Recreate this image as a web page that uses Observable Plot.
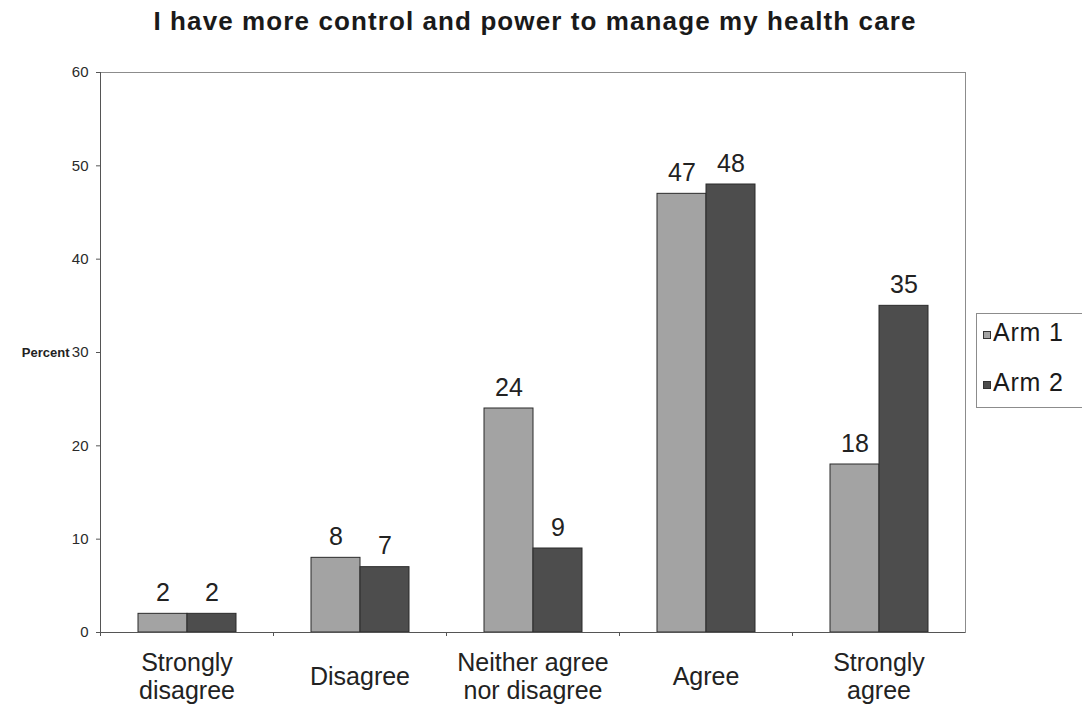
<!DOCTYPE html>
<html>
<head>
<meta charset="utf-8">
<script src="https://cdn.jsdelivr.net/npm/d3@7"></script>
<script src="https://cdn.jsdelivr.net/npm/@observablehq/plot@0.6"></script>
<style>
  body { margin: 0; background: #fff; font-family: "Liberation Sans", Arial, sans-serif; }
  #wrap { position: relative; width: 1082px; height: 707px; overflow: hidden; background: #fff; }
  #title { width: 1070px; height: 60px; box-sizing: border-box; padding-top: 6px; text-align: center;
           font-size: 26px; line-height: 30px; font-weight: bold; color: #1a1a1a; letter-spacing: 1.1px; }
  #legend { position: absolute; left: 976px; top: 313px; width: 125px; height: 95px;
            border: 1px solid #8c8c8c; box-sizing: border-box; background: #fff; }
  .item { position: absolute; left: 6px; height: 30px; display: flex; align-items: center;
          font-size: 25px; color: #1a1a1a; letter-spacing: 0.8px; }
  .sw { width: 6px; height: 6px; border: 1px solid #333; margin-right: 2px; margin-top: 6px; }
</style>
</head>
<body>
<div id="wrap">
  <div id="title">I have more control and power to manage my health care</div>
  <div id="chart"></div>
  <div id="legend"></div>
</div>
<script>
// Survey responses (percent) for each study arm
const categories = ["Strongly\ndisagree", "Disagree", "Neither agree\nnor disagree", "Agree", "Strongly\nagree"];
const arms = ["Arm 1", "Arm 2"];
const arm1 = [2, 8, 24, 47, 18];
const arm2 = [2, 7, 9, 48, 35];
const armColors = ["#a3a3a3", "#4d4d4d"];
const yTicks = [0, 10, 20, 30, 40, 50, 60];

const rows = categories.flatMap((c, i) => [
  {category: c, arm: arms[0], value: arm1[i]},
  {category: c, arm: arms[1], value: arm2[i]}
]);

const width = 1082, height = 647;
const marginLeft = 100, marginRight = 117, marginTop = 12, marginBottom = 75;
const facetWidth = (width - marginLeft - marginRight) / categories.length;
const font = "Liberation Sans, Arial, sans-serif";

const chart = Plot.plot({
  width, height, marginLeft, marginRight, marginTop, marginBottom,
  style: {fontFamily: font, background: "#fff", color: "#222"},
  fx: {domain: categories, padding: 0, axis: null},
  x: {domain: arms, paddingInner: 0, paddingOuter: 0.75, axis: null},
  y: {domain: [0, 60], axis: null},
  color: {domain: arms, range: armColors},
  marks: [
    // plot-area border
    Plot.frame({anchor: "top", stroke: "#8c8c8c"}),
    Plot.frame({anchor: "right", facetAnchor: "right", stroke: "#8c8c8c"}),
    // value axis
    Plot.axisY({ticks: yTicks, tickSize: 4, tickPadding: 8, fontSize: 15, stroke: "#555", fill: "#2a2a2a", label: null}),
    Plot.frame({anchor: "left", facetAnchor: "left", stroke: "#555"}),
    Plot.text([{fx: categories[0], y: 30}], {fx: "fx", y: "y", text: () => "Percent", frameAnchor: "left",
      textAnchor: "end", dx: -31, fontSize: 13, fontWeight: "bold", fill: "#222"}),
    // bars
    Plot.barY(rows, {fx: "category", x: "arm", y: "value", fill: "arm", stroke: "#2b2b2b", strokeWidth: 1}),
    Plot.text(rows, {fx: "category", x: "arm", y: "value", text: "value", dy: -21, lineAnchor: "middle",
      fontSize: 25, fill: "#222"}),
    // category axis
    Plot.ruleY([0], {stroke: "#555"}),
    Plot.axisFx({anchor: "bottom", tickSize: 4, text: null, dx: -facetWidth / 2, stroke: "#555"}),
    Plot.axisFx({anchor: "bottom", tickSize: 0, tickPadding: 44, lineAnchor: "middle", lineHeight: 1.12,
      fontSize: 25, letterSpacing: 0.6, fill: "#222", label: null})
  ]
});
document.getElementById("chart").appendChild(chart);

// legend drawn beside the plot area
const legend = document.getElementById("legend");
arms.forEach((a, i) => {
  const item = document.createElement("div");
  item.className = "item";
  item.style.top = (3 + i * 50) + "px";
  const sw = document.createElement("span");
  sw.className = "sw";
  sw.style.background = armColors[i];
  const label = document.createElement("span");
  label.textContent = a;
  item.append(sw, label);
  legend.appendChild(item);
});
</script>
</body>
</html>
